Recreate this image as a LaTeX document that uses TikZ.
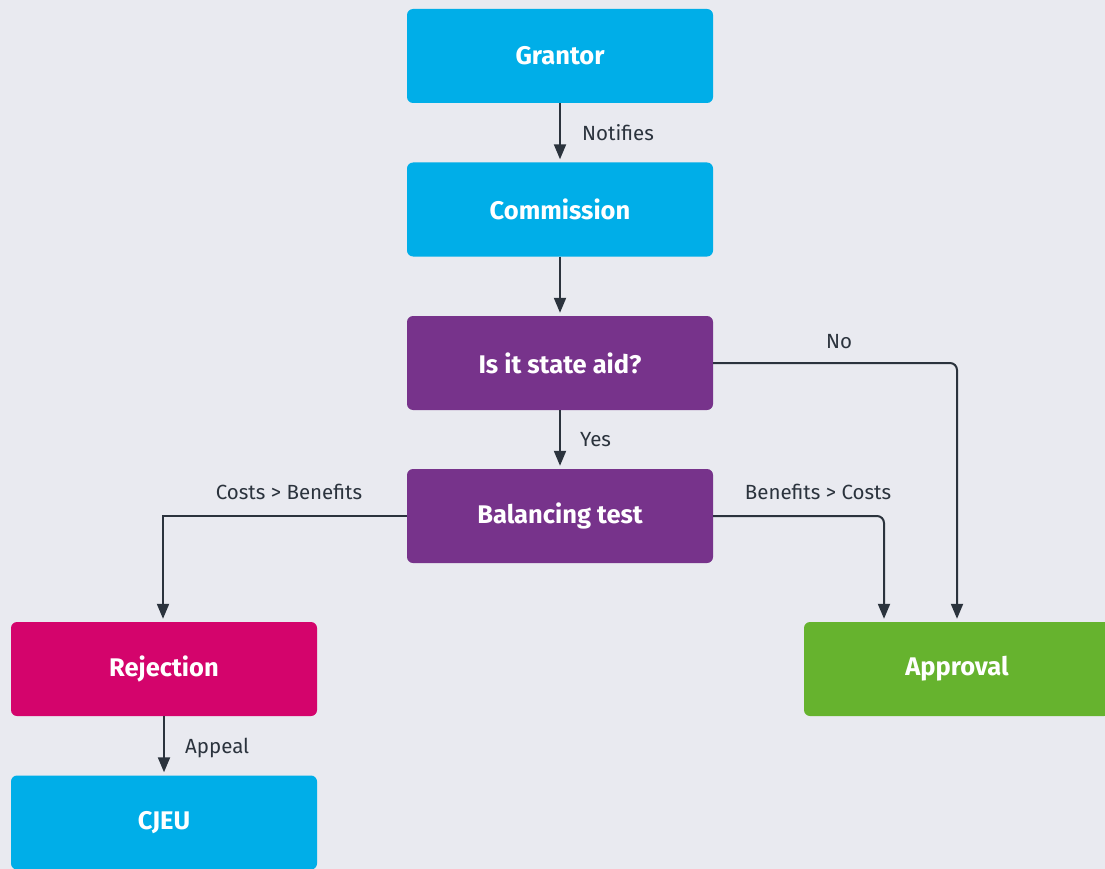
\documentclass[tikz,border=0pt]{standalone}
\usepackage{fontspec}
\setmainfont{Fira Sans}
\usetikzlibrary{arrows.meta}
\definecolor{bg}{RGB}{233,234,240}
\definecolor{boxblue}{RGB}{0,174,232}
\definecolor{boxpurple}{RGB}{119,51,139}
\definecolor{boxmagenta}{RGB}{212,4,108}
\definecolor{boxgreen}{RGB}{102,179,46}
\definecolor{ink}{RGB}{43,51,61}
\begin{document}
\begin{tikzpicture}[x=1pt,y=-1pt,
  stepbox/.style={rectangle, rounded corners=6pt, minimum width=306pt, minimum height=94pt,
    inner sep=0pt, text=white, font=\fontsize{25.5}{30}\selectfont\bfseries},
  conn/.style={draw=ink, line width=2pt, -{Triangle[length=15pt,width=12pt]}, shorten >=3pt},
  lbl/.style={text=ink, font=\fontsize{20.5}{24}\selectfont, inner sep=0pt}]
\useasboundingbox (0,0) rectangle (1105,869);
\fill[bg] (0,0) rectangle (1105,869);
\clip (0,0) rectangle (1105,869);

% boxes
\node[stepbox, fill=boxblue]    (grantor)    at (560,56)    {\raisebox{-1.5pt}{Grantor}};
\node[stepbox, fill=boxblue]    (commission) at (560,209.5) {\raisebox{-1.5pt}{Commission}};
\node[stepbox, fill=boxpurple]  (aid)        at (560,363)   {\raisebox{-1.5pt}{Is it state aid?}};
\node[stepbox, fill=boxpurple]  (balance)    at (560,516)   {\raisebox{-1.5pt}{Balancing test}};
\node[stepbox, fill=boxmagenta] (reject)     at (164,669)   {\raisebox{-1.5pt}{Rejection}};
\node[stepbox, fill=boxblue]    (cjeu)       at (164,822.5) {\raisebox{-1.5pt}{CJEU}};
\node[stepbox, fill=boxgreen]   (approve)    at (957,669)   {\raisebox{-1.5pt}{Approval}};

% connectors
\draw[conn] (grantor) -- (commission);
\draw[conn] (commission) -- (aid);
\draw[conn] (aid) -- (balance);
\draw[conn, rounded corners=7pt] (aid.east) -| (approve.north);
\draw[conn, rounded corners=7pt] (balance.east) -| ([xshift=-73pt]approve.north);
\draw[conn] (balance.west) -| ([xshift=-1pt]reject.north);
\draw[conn] (reject) -- (cjeu);

% connector labels
\node[lbl, anchor=west] (lnotify) at (582,133) {Notifies};
\node[lbl, anchor=west] (lyes)    at (580,440) {Yes};
\node[lbl]              (lno)     at (839,342) {No};
\node[lbl]              (lbenef)  at (818,492) {Benefits > Costs};
\node[lbl]              (lcosts)  at (289,492) {Costs > Benefits};
\node[lbl, anchor=west] (lappeal) at (185,748) {Appeal};
\end{tikzpicture}
\end{document}
